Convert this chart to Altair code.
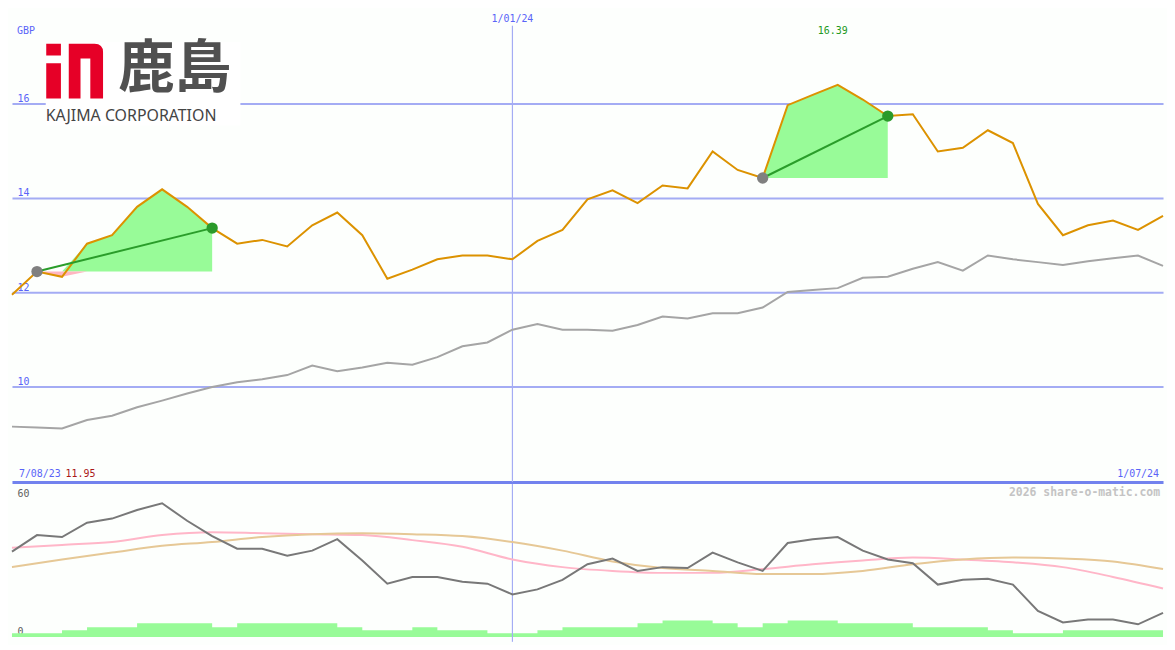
import altair as alt
import pandas as pd

# ---------------- data ----------------
idx = list(range(47))
price = [11.95, 12.44, 12.33, 13.03, 13.21, 13.81, 14.18, 13.81, 13.36, 13.03,
         13.11, 12.97, 13.42, 13.69, 13.21, 12.29, 12.48, 12.70, 12.78, 12.78,
         12.70, 13.09, 13.32, 13.97, 14.16, 13.89, 14.26, 14.20, 14.98, 14.59,
         14.42, 15.96, 16.18, 16.39, 16.08, 15.73, 15.77, 14.98, 15.06, 15.43,
         15.16, 13.87, 13.21, 13.42, 13.52, 13.32, 13.62]
ma = [9.16, 9.14, 9.12, 9.30, 9.39, 9.57, 9.71, 9.86, 10.00, 10.10,
      10.16, 10.25, 10.45, 10.33, 10.41, 10.51, 10.47, 10.63, 10.86, 10.94,
      11.21, 11.33, 11.21, 11.21, 11.19, 11.31, 11.49, 11.45, 11.56, 11.56,
      11.68, 12.01, 12.05, 12.09, 12.31, 12.33, 12.50, 12.64, 12.46, 12.78,
      12.70, 12.64, 12.58, 12.66, 12.72, 12.78, 12.56]
osc = [35.7, 42.6, 41.8, 47.8, 49.5, 53.1, 55.9, 48.6, 42.2, 36.9,
       36.9, 34.0, 36.1, 40.9, 32.0, 22.3, 25.1, 25.1, 23.1, 22.3,
       17.8, 19.9, 23.9, 30.4, 32.8, 27.6, 29.2, 28.8, 35.3, 31.2,
       27.6, 39.3, 40.9, 41.8, 36.1, 32.4, 30.8, 21.9, 23.9, 24.3,
       21.9, 10.9, 6.1, 7.3, 7.3, 5.3, 10.1]
smooth_idx = list(range(0, 47, 2))
pink_line = [37.3, 38.5, 39.7, 42.6, 43.8, 43.4, 43.0, 42.6, 40.5, 37.7, 32.4, 29.2,
             27.6, 26.8, 26.8, 28.4, 30.4, 32.0, 33.2, 32.4, 31.2, 29.2, 25.1, 20.3]
tan_line = [29.2, 32.4, 35.3, 38.1, 39.7, 41.8, 43.0, 43.4, 43.0, 42.2, 39.7, 36.1,
            31.6, 28.8, 27.6, 26.3, 26.3, 27.6, 30.4, 32.4, 33.2, 32.8, 31.6, 28.4]
volume = [1.6, 1.6, 2.8, 4.1, 4.1, 5.7, 5.7, 5.7, 4.1, 5.7,
          5.7, 5.7, 5.7, 4.1, 2.8, 2.8, 4.1, 2.8, 2.8, 1.6,
          1.6, 2.8, 4.1, 4.1, 4.1, 5.7, 6.9, 6.9, 5.7, 4.1,
          5.7, 6.9, 6.9, 5.7, 5.7, 5.7, 4.1, 4.1, 4.1, 2.8,
          1.6, 1.6, 2.8, 2.8, 2.8, 2.8]
hl_start = [1, 30]
hl_end = [8, 35]
y_ticks = [10, 12, 14, 16]
osc_ticks = [0, 60]
marker_idx = [20]
date_idx = [0, 20, 46]
date_text = ["7/08/23", "1/01/24", "1/07/24"]
currency = "GBP"
logo_cn = "鹿島"
logo_en = "KAJIMA CORPORATION"
watermark = "2026 share-o-matic.com"

# ---------------- tables ----------------
W, H1, H2 = 1159, 475, 159
MONO = "DejaVu Sans Mono"
BLUE_TXT = "#5a64f8"
GRID = "#a4acf4"
BG = "#fdfffd"

base_df = pd.DataFrame({"idx": idx, "price": price, "ma": ma, "osc": osc})
smooth_df = pd.DataFrame({"idx": smooth_idx, "pink": pink_line, "tan": tan_line})
vol_df = pd.DataFrame({"idx": idx, "vol": volume + [volume[-1]]})
marker_df = pd.DataFrame({"idx": marker_idx})
date_df = pd.DataFrame({"idx": date_idx, "label": date_text})

rows, trend = [], []
for w, (s, e) in enumerate(zip(hl_start, hl_end)):
    b = price[s]
    for i in range(s, e + 1):
        rows.append({"idx": i, "win": w, "base": b,
                     "up": max(price[i], b), "down": min(price[i], b)})
    trend.append({"idx": s, "win": w, "price": price[s], "kind": "start"})
    trend.append({"idx": e, "win": w, "price": price[e], "kind": "end"})
hl_df = pd.DataFrame(rows)
trend_df = pd.DataFrame(trend)

imax = price.index(max(price))
max_df = pd.DataFrame({"idx": [imax], "label": [f"{max(price):.2f}"]})
start_df = pd.DataFrame({"idx": [0], "label": [f"{price[0]:.2f}"]})

# ---------------- scales / axes ----------------
x_scale = alt.Scale(domain=[0, 46], nice=False, zero=False)
top_x_axis = alt.Axis(orient="bottom", domain=True, domainColor="#7282ee", domainWidth=3,
                      labels=False, ticks=False, grid=False, title=None)
top_y_scale = alt.Scale(domain=[7.99, 17.97], nice=False, zero=False)
top_y_axis = alt.Axis(values=y_ticks, grid=True, gridColor=GRID, gridWidth=2,
                      domain=False, ticks=False, tickSize=0, labelAlign="left",
                      labelBaseline="bottom", labelPadding=-5, labelColor=BLUE_TXT,
                      labelFont=MONO, labelFontSize=10, title=None)
bot_y_scale = alt.Scale(domain=[-2.03, 64.0], nice=False, zero=False)
bot_y_axis = alt.Axis(values=osc_ticks, grid=False, domain=False, ticks=False, tickSize=0,
                      labelAlign="left",
                      labelBaseline={"condition": {"test": "datum.value == 0", "value": "bottom"},
                                     "value": "middle"},
                      labelPadding=-5, labelColor="#606060", labelFont=MONO,
                      labelFontSize=10, title=None)


def xt():
    return alt.X("idx:Q", scale=x_scale, axis=top_x_axis)


def xb():
    return alt.X("idx:Q", scale=x_scale, axis=None)


def yt(f):
    return alt.Y(f"{f}:Q", scale=top_y_scale, axis=top_y_axis)


def yb(f):
    return alt.Y(f"{f}:Q", scale=bot_y_scale, axis=bot_y_axis)


# ---------------- top panel ----------------
vrule_top = alt.Chart(marker_df).mark_rule(color=GRID, strokeWidth=1.2).encode(
    x=xt(), y=alt.value(15.6), y2=alt.value(H1))
ma_line = alt.Chart(base_df).mark_line(color="#a5a5a5", strokeWidth=2).encode(x=xt(), y=yt("ma"))
green_area = alt.Chart(hl_df).mark_area(color="#98fb98", opacity=1).encode(
    x=xt(), y=yt("up"), y2=alt.Y2("base:Q"), detail="win:N")
pink_area = alt.Chart(hl_df).mark_area(color="#ffb6c1", opacity=1).encode(
    x=xt(), y=yt("down"), y2=alt.Y2("base:Q"), detail="win:N")
price_line = alt.Chart(base_df).mark_line(color="#dc9200", strokeWidth=2).encode(x=xt(), y=yt("price"))
trend_line = alt.Chart(trend_df).mark_line(color="#2a9d2a", strokeWidth=2).encode(
    x=xt(), y=yt("price"), detail="win:N")
dots = alt.Chart(trend_df).mark_circle(size=130, opacity=1).encode(
    x=xt(), y=yt("price"),
    color=alt.Color("kind:N", scale=alt.Scale(domain=["start", "end"], range=["#808080", "#2a9a2a"]),
                    legend=None))

gbp = alt.Chart(base_df.head(1)).mark_text(align="left", baseline="middle", font=MONO, fontSize=10,
                                           color=BLUE_TXT).encode(
    x=alt.value(5), y=alt.value(20.5), text=alt.value(currency))
date_mid = alt.Chart(date_df).transform_filter("datum.idx == 20").mark_text(
    align="center", baseline="middle", font=MONO, fontSize=10, color=BLUE_TXT).encode(
    x=xt(), y=alt.value(8.8), text="label:N")
date_left = alt.Chart(date_df).transform_filter("datum.idx == 0").mark_text(
    align="left", baseline="middle", font=MONO, fontSize=10, color=BLUE_TXT, dx=7).encode(
    x=xt(), y=alt.value(467), text="label:N")
date_right = alt.Chart(date_df).transform_filter("datum.idx == 46").mark_text(
    align="right", baseline="middle", font=MONO, fontSize=10, color=BLUE_TXT, dx=-4).encode(
    x=xt(), y=alt.value(467), text="label:N")
start_lbl = alt.Chart(start_df).mark_text(
    align="left", baseline="middle", font=MONO, fontSize=10, color="#aa1818", dx=54).encode(
    x=xt(), y=alt.value(467), text="label:N")
max_lbl = alt.Chart(max_df).mark_text(
    align="center", baseline="middle", font=MONO, fontSize=10, color="#229922", dx=-5).encode(
    x=xt(), y=alt.value(20.5), text="label:N")

# logo
one = base_df.head(1)
logo_bg = alt.Chart(one).mark_rect(color="#ffffff").encode(
    x=alt.value(34), x2=alt.value(230), y=alt.value(32), y2=alt.value(116))
logo_path = ("M-1,-0.966L-0.483,-0.966L-0.483,-0.552L-1,-0.552Z"
             "M-1,-0.276L-0.483,-0.276L-0.483,0.966L-1,0.966Z"
             "M-0.207,-0.966L0.7,-0.966Q1,-0.966 1,-0.666L1,0.966L0.552,0.966"
             "L0.552,-0.448L0.207,-0.448L0.207,0.966L-0.207,0.966Z")
logo_red = alt.Chart(one).mark_point(shape=logo_path, filled=True, color="#e60027", size=3272,
                                      opacity=1, strokeWidth=0).encode(
    x=alt.value(63.1), y=alt.value(61.4))
logo_cn_t = alt.Chart(one).mark_text(align="left", baseline="middle", font="Noto Sans CJK JP",
                                     fontWeight="bold", fontSize=57, color="#505050").encode(
    x=alt.value(107), y=alt.value(60.5), text=alt.value(logo_cn))
logo_en_t = alt.Chart(one).mark_text(align="left", baseline="middle", font="Noto Sans",
                                     fontSize=16, color="#444444").encode(
    x=alt.value(34), y=alt.value(107), text=alt.value(logo_en))

top = alt.layer(vrule_top, ma_line, green_area, pink_area, price_line, trend_line, dots,
                gbp, date_mid, date_left, date_right, start_lbl, max_lbl,
                logo_bg, logo_red, logo_cn_t, logo_en_t).properties(width=W, height=H1)

# ---------------- bottom panel ----------------
vol_area = alt.Chart(vol_df).mark_area(color="#98fb98", interpolate="step-after", opacity=1).encode(
    x=xb(), y=yb("vol"), y2=alt.value(H2))
vrule_bot = alt.Chart(marker_df).mark_rule(color=GRID, strokeWidth=1.2).encode(x=xb())
pink_l = alt.Chart(smooth_df).mark_line(color="#ffb6c8", strokeWidth=2, interpolate="monotone").encode(
    x=xb(), y=yb("pink"))
tan_l = alt.Chart(smooth_df).mark_line(color="#e6c896", strokeWidth=2, interpolate="monotone").encode(
    x=xb(), y=yb("tan"))
osc_l = alt.Chart(base_df).mark_line(color="#787878", strokeWidth=2).encode(x=xb(), y=yb("osc"))
wm = alt.Chart(one).mark_text(align="right", baseline="middle", font=MONO, fontSize=11.5,
                              fontWeight="bold", color="#c4c4c4").encode(
    x=alt.value(W - 3), y=alt.value(9), text=alt.value(watermark))

bottom = alt.layer(vol_area, vrule_bot, pink_l, tan_l, osc_l, wm).properties(width=W, height=H2)

chart = alt.vconcat(top, bottom, spacing=0).properties(
    padding=0, background=BG
).configure_view(stroke=None).configure_concat(spacing=0)

chart.save("out.html", embed_options={"renderer": "svg", "actions": False})
